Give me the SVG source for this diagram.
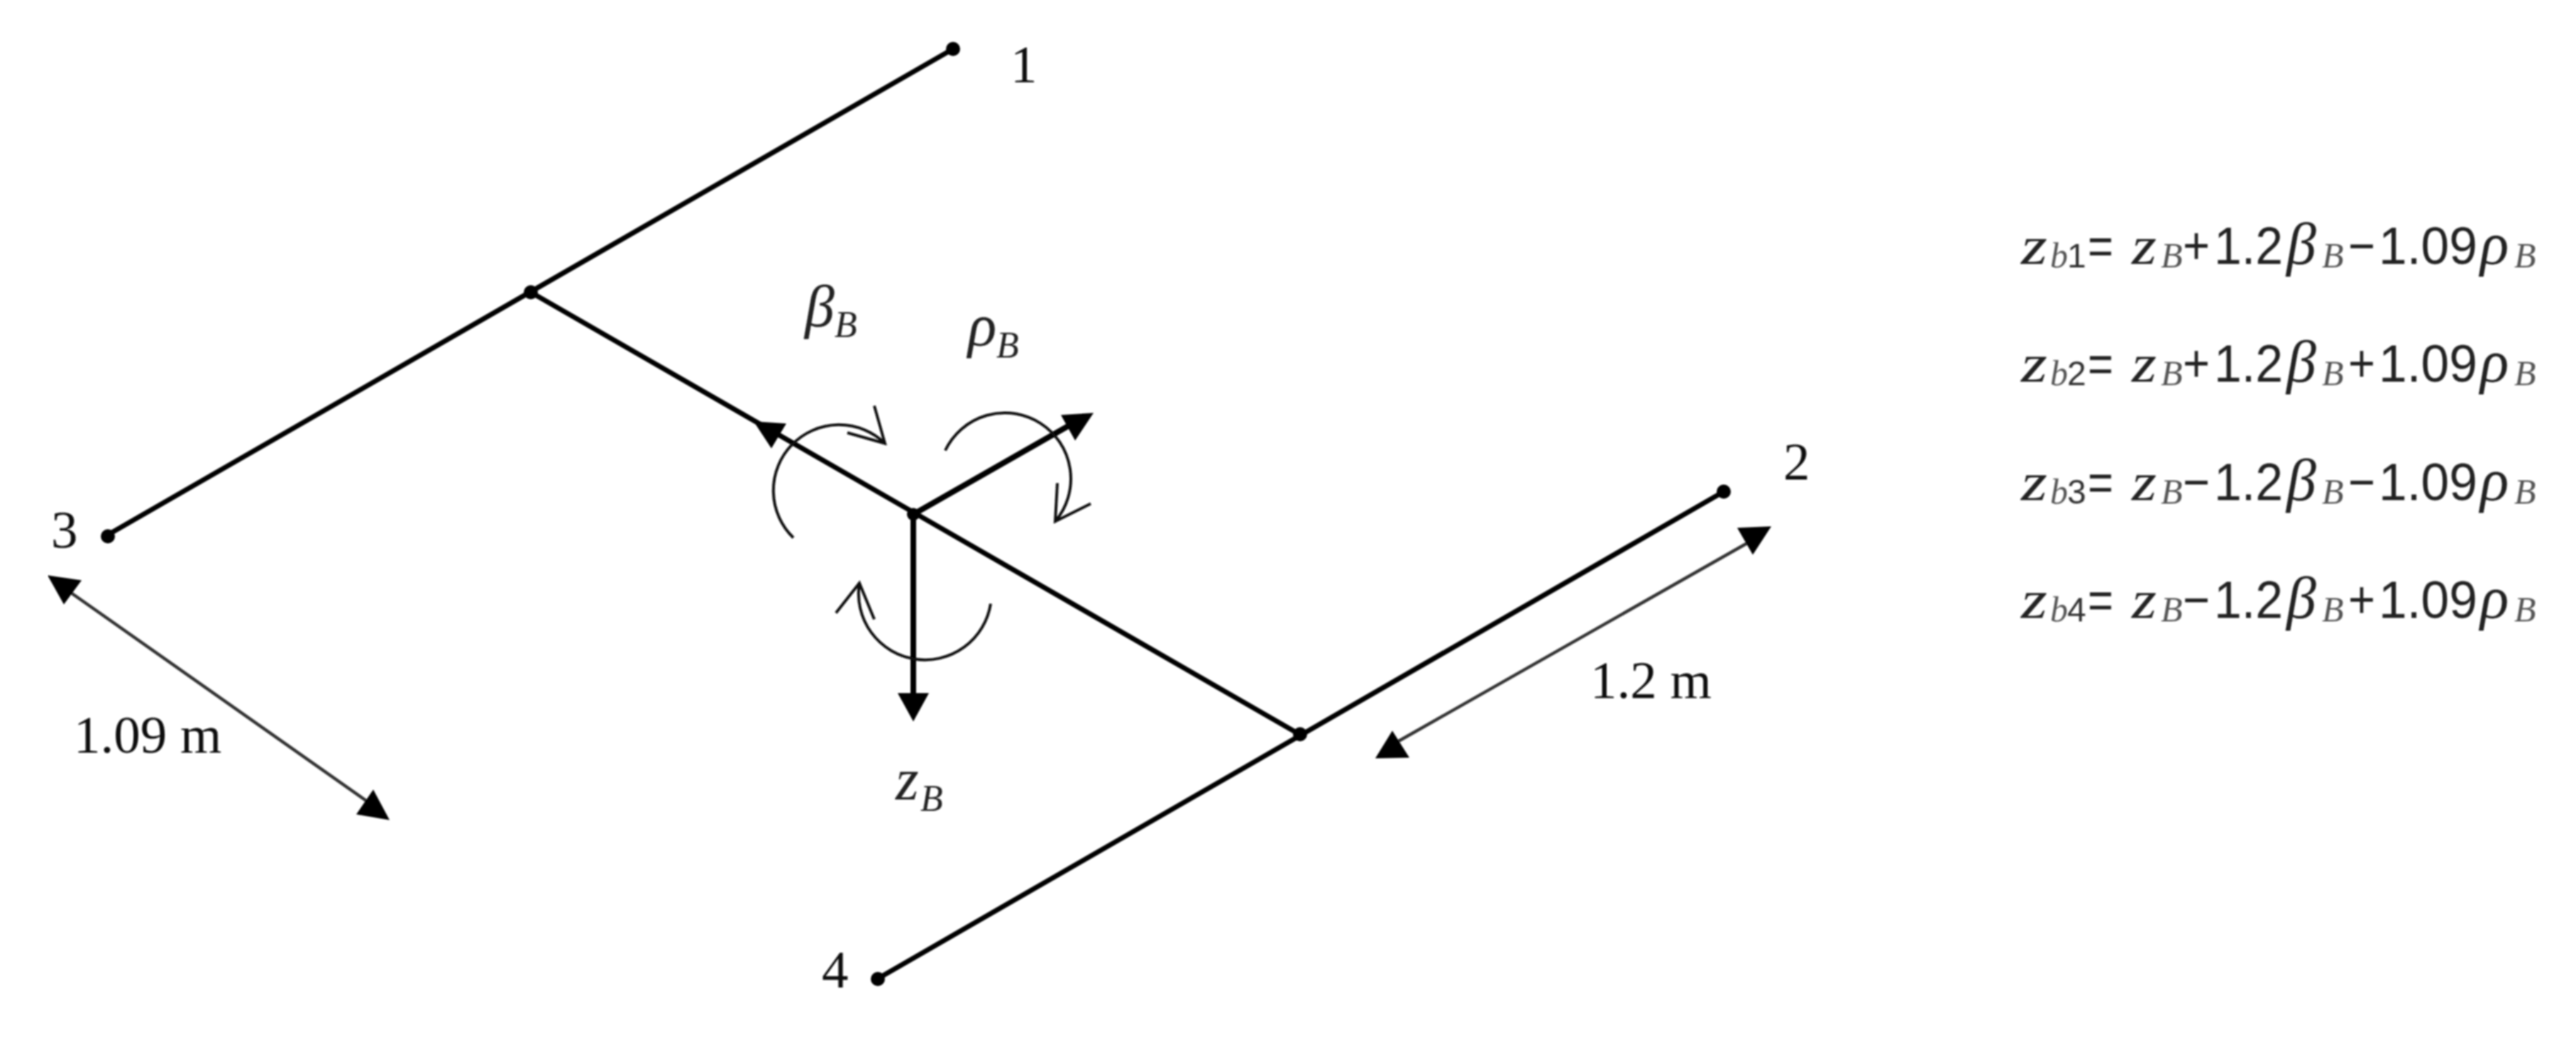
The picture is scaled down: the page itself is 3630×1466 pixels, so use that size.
<svg xmlns="http://www.w3.org/2000/svg" width="3630" height="1466" viewBox="0 0 3630 1466">
<style>
.bg{fill:#fff}
.beam{stroke:#000;stroke-width:7;fill:none;stroke-linecap:round}
.axis{stroke:#000;stroke-width:8;fill:none}
.dim{stroke:#333;stroke-width:4.5;fill:none}
.arc{stroke:#111;stroke-width:4;fill:none}
.head{fill:#000}
.dot{fill:#000}
.lab{font-family:"Liberation Serif",serif;font-size:75px;fill:#111}
.sym{font-family:"Liberation Serif",serif;font-style:italic;font-size:84px;fill:#222}
.symsub{font-family:"Liberation Serif",serif;font-style:italic;font-size:52px;fill:#222}
.eqz{font-family:"Liberation Serif",serif;font-style:italic;font-size:76px;fill:#222}
.eqb{font-family:"Liberation Serif",serif;font-style:italic;font-size:84px;fill:#222}
.eqg{font-family:"Liberation Serif",serif;font-style:italic;font-size:50px;fill:#555}
.eqn{font-family:"Liberation Sans",sans-serif;font-size:75px;fill:#222}
.eqs{font-family:"Liberation Sans",sans-serif;font-size:48px;fill:#333}
</style>
<defs><filter id="soft" x="0" y="0" width="1" height="1"><feGaussianBlur stdDeviation="1.1"/></filter></defs>
<rect class="bg" width="3630" height="1466"/>
<g filter="url(#soft)">
<g id="connectors">
<line class="beam" x1="150" y1="755" x2="1343" y2="69"/>
<line class="beam" x1="1236" y1="1380" x2="2429" y2="693"/>
<line class="beam" x1="748" y1="412" x2="1831" y2="1035"/>
<line class="axis" x1="1287" y1="725" x2="1515" y2="595"/>
<line class="axis" x1="1287" y1="725" x2="1287" y2="985"/>
<line class="dim" x1="85" y1="825" x2="525" y2="1135"/>
<line class="dim" x1="1965" y1="1048" x2="2472" y2="760"/>
<polygon class="head" points="1062,594 1108,597 1087,632"/>
<polygon class="head" points="1541,582 1495,585 1515,621"/>
<polygon class="head" points="1287,1017 1265,977 1309,977"/>
<polygon class="head" points="67,811 115,818 90,852"/>
<polygon class="head" points="549,1156 526,1113 502,1148"/>
<polygon class="head" points="2496,742 2448,744 2470,782"/>
<polygon class="head" points="1938,1069 1986,1068 1962,1030"/>
<path class="arc" d="M1118 758A92 92 0 1 1 1247 625M1232 572L1247 625L1194 610"/>
<path class="arc" d="M1332 635A93 93 0 1 1 1487 735M1490 681L1487 735L1537 710"/>
<path class="arc" d="M1396 851A93 93 0 1 1 1211 822M1178 864L1211 822L1232 873"/>
</g>
<g id="node-1"><circle class="dot" cx="1343" cy="69" r="10"/><text class="lab" x="1424" y="116">1</text></g>
<g id="node-2"><circle class="dot" cx="2429" cy="693" r="10"/><text class="lab" x="2513" y="676">2</text></g>
<g id="node-3"><circle class="dot" cx="152" cy="756" r="10"/><text class="lab" x="72" y="772">3</text></g>
<g id="node-4"><circle class="dot" cx="1237" cy="1380" r="10"/><text class="lab" x="1158" y="1392">4</text></g>
<g id="joint-a"><circle class="dot" cx="748" cy="412" r="10"/></g>
<g id="joint-b"><circle class="dot" cx="1832" cy="1035" r="10"/></g>
<g id="centre"><circle class="dot" cx="1287" cy="725" r="9"/></g>
<g id="labels">
<text class="lab" x="104" y="1061">1.09 m</text>
<text class="lab" x="2241" y="984">1.2 m</text>
<text class="sym" x="1134" y="460">β</text><text class="symsub" x="1176" y="475">B</text>
<text class="sym" x="1364" y="487">ρ</text><text class="symsub" x="1404" y="504">B</text>
<text class="sym" x="1262" y="1127">z</text><text class="symsub" x="1297" y="1143">B</text>
</g>
<g id="eq1">
<text class="eqz" x="2848" y="372" textLength="37" lengthAdjust="spacingAndGlyphs">z</text><text class="eqg" x="2889" y="377">b</text><text class="eqs" x="2913" y="377">1</text><text class="eqn" x="2942" y="372" textLength="36" lengthAdjust="spacingAndGlyphs">=</text>
<text class="eqz" x="3004" y="372" textLength="35" lengthAdjust="spacingAndGlyphs">z</text><text class="eqg" x="3045" y="377">B</text><text class="eqn" x="3076" y="372" textLength="38" lengthAdjust="spacingAndGlyphs">+</text>
<text class="eqn" x="3120" y="372" textLength="97" lengthAdjust="spacingAndGlyphs">1.2</text><text class="eqb" x="3222" y="372">β</text><text class="eqg" x="3272" y="377">B</text>
<text class="eqn" x="3309" y="372" textLength="38" lengthAdjust="spacingAndGlyphs">−</text><text class="eqn" x="3352" y="372" textLength="139" lengthAdjust="spacingAndGlyphs">1.09</text><text class="eqb" x="3495" y="372">ρ</text><text class="eqg" x="3543" y="377">B</text>
</g>
<g id="eq2">
<text class="eqz" x="2848" y="538" textLength="37" lengthAdjust="spacingAndGlyphs">z</text><text class="eqg" x="2889" y="543">b</text><text class="eqs" x="2913" y="543">2</text><text class="eqn" x="2942" y="538" textLength="36" lengthAdjust="spacingAndGlyphs">=</text>
<text class="eqz" x="3004" y="538" textLength="35" lengthAdjust="spacingAndGlyphs">z</text><text class="eqg" x="3045" y="543">B</text><text class="eqn" x="3076" y="538" textLength="38" lengthAdjust="spacingAndGlyphs">+</text>
<text class="eqn" x="3120" y="538" textLength="97" lengthAdjust="spacingAndGlyphs">1.2</text><text class="eqb" x="3222" y="538">β</text><text class="eqg" x="3272" y="543">B</text>
<text class="eqn" x="3309" y="538" textLength="38" lengthAdjust="spacingAndGlyphs">+</text><text class="eqn" x="3352" y="538" textLength="139" lengthAdjust="spacingAndGlyphs">1.09</text><text class="eqb" x="3495" y="538">ρ</text><text class="eqg" x="3543" y="543">B</text>
</g>
<g id="eq3">
<text class="eqz" x="2848" y="705" textLength="37" lengthAdjust="spacingAndGlyphs">z</text><text class="eqg" x="2889" y="710">b</text><text class="eqs" x="2913" y="710">3</text><text class="eqn" x="2942" y="705" textLength="36" lengthAdjust="spacingAndGlyphs">=</text>
<text class="eqz" x="3004" y="705" textLength="35" lengthAdjust="spacingAndGlyphs">z</text><text class="eqg" x="3045" y="710">B</text><text class="eqn" x="3076" y="705" textLength="38" lengthAdjust="spacingAndGlyphs">−</text>
<text class="eqn" x="3120" y="705" textLength="97" lengthAdjust="spacingAndGlyphs">1.2</text><text class="eqb" x="3222" y="705">β</text><text class="eqg" x="3272" y="710">B</text>
<text class="eqn" x="3309" y="705" textLength="38" lengthAdjust="spacingAndGlyphs">−</text><text class="eqn" x="3352" y="705" textLength="139" lengthAdjust="spacingAndGlyphs">1.09</text><text class="eqb" x="3495" y="705">ρ</text><text class="eqg" x="3543" y="710">B</text>
</g>
<g id="eq4">
<text class="eqz" x="2848" y="871" textLength="37" lengthAdjust="spacingAndGlyphs">z</text><text class="eqg" x="2889" y="876">b</text><text class="eqs" x="2913" y="876">4</text><text class="eqn" x="2942" y="871" textLength="36" lengthAdjust="spacingAndGlyphs">=</text>
<text class="eqz" x="3004" y="871" textLength="35" lengthAdjust="spacingAndGlyphs">z</text><text class="eqg" x="3045" y="876">B</text><text class="eqn" x="3076" y="871" textLength="38" lengthAdjust="spacingAndGlyphs">−</text>
<text class="eqn" x="3120" y="871" textLength="97" lengthAdjust="spacingAndGlyphs">1.2</text><text class="eqb" x="3222" y="871">β</text><text class="eqg" x="3272" y="876">B</text>
<text class="eqn" x="3309" y="871" textLength="38" lengthAdjust="spacingAndGlyphs">+</text><text class="eqn" x="3352" y="871" textLength="139" lengthAdjust="spacingAndGlyphs">1.09</text><text class="eqb" x="3495" y="871">ρ</text><text class="eqg" x="3543" y="876">B</text>
</g>
</g>
</svg>
